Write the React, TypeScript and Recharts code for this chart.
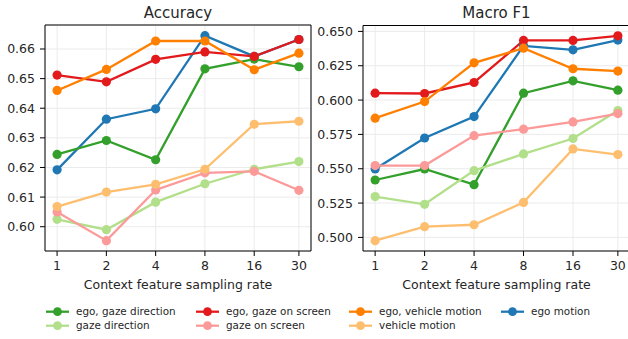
import React from "react";
import { LineChart, Line, XAxis, YAxis, CartesianGrid, ReferenceArea } from "recharts";

const rates = [1, 2, 4, 8, 16, 30];

const seriesNames = [
  "ego motion",
  "ego, gaze direction",
  "gaze direction",
  "ego, gaze on screen",
  "gaze on screen",
  "ego, vehicle motion",
  "vehicle motion",
];

const legendOrder = [
  "ego, gaze direction",
  "gaze direction",
  "ego, gaze on screen",
  "gaze on screen",
  "ego, vehicle motion",
  "vehicle motion",
  "ego motion",
];

const colors: Record<string, string> = {
  "ego, gaze direction": "#33a02c",
  "gaze direction": "#b2df8a",
  "ego, gaze on screen": "#e31a1c",
  "gaze on screen": "#fb9a99",
  "ego, vehicle motion": "#ff7f00",
  "vehicle motion": "#fdbf6f",
  "ego motion": "#1f78b4",
};

// Accuracy
const accEgoGazeDir = [0.6244, 0.6291, 0.6226, 0.6533, 0.6566, 0.654];
const accGazeDir = [0.6025, 0.599, 0.6083, 0.6145, 0.6194, 0.622];
const accEgoGazeScreen = [0.6512, 0.6489, 0.6565, 0.659, 0.6575, 0.6632];
const accGazeScreen = [0.605, 0.5953, 0.6124, 0.6182, 0.6187, 0.6123];
const accEgoVehicle = [0.646, 0.6531, 0.6627, 0.6627, 0.653, 0.6586];
const accVehicle = [0.6068, 0.6117, 0.6143, 0.6194, 0.6346, 0.6356];
const accEgo = [0.6192, 0.6363, 0.6398, 0.6645, 0.6575, 0.6632];

// Macro F1
const f1EgoGazeDir = [0.5418, 0.5498, 0.5384, 0.605, 0.614, 0.6072];
const f1GazeDir = [0.5297, 0.5241, 0.5486, 0.5608, 0.572, 0.5924];
const f1EgoGazeScreen = [0.605, 0.6048, 0.6128, 0.6434, 0.6434, 0.6468];
const f1GazeScreen = [0.5523, 0.5523, 0.5741, 0.5788, 0.5841, 0.5902];
const f1EgoVehicle = [0.5868, 0.5989, 0.6271, 0.6378, 0.6228, 0.6211];
const f1Vehicle = [0.4976, 0.5078, 0.5092, 0.5255, 0.5644, 0.5603];
const f1Ego = [0.5498, 0.5724, 0.588, 0.6395, 0.6366, 0.6437];

const accTicks = [0.6, 0.61, 0.62, 0.63, 0.64, 0.65, 0.66];
const f1Ticks = [0.5, 0.525, 0.55, 0.575, 0.6, 0.625, 0.65];

const accSeries: Record<string, number[]> = {
  "ego, gaze direction": accEgoGazeDir,
  "gaze direction": accGazeDir,
  "ego, gaze on screen": accEgoGazeScreen,
  "gaze on screen": accGazeScreen,
  "ego, vehicle motion": accEgoVehicle,
  "vehicle motion": accVehicle,
  "ego motion": accEgo,
};
const f1Series: Record<string, number[]> = {
  "ego, gaze direction": f1EgoGazeDir,
  "gaze direction": f1GazeDir,
  "ego, gaze on screen": f1EgoGazeScreen,
  "gaze on screen": f1GazeScreen,
  "ego, vehicle motion": f1EgoVehicle,
  "vehicle motion": f1Vehicle,
  "ego motion": f1Ego,
};

function buildRows(series: Record<string, number[]>) {
  return rates.map((r, i) => {
    const row: Record<string, number> = { rate: r };
    seriesNames.forEach((n) => (row[n] = series[n][i]));
    return row;
  });
}

const xDomain: [number, number] = [0.8436, 35.56];
const FONT = "DejaVu Sans";
const TEXT = "#262626";

type PanelProps = {
  data: Record<string, number>[];
  yDomain: [number, number];
  yTicks: number[];
  digits: number;
  yWidth: number;
  left: number;
  marginRight: number;
  marginTop: number;
};

function Panel({ data, yDomain, yTicks, digits, yWidth, left, marginRight, marginTop }: PanelProps) {
  return (
    <div style={{ position: "absolute", left, top: 0 }}>
      <LineChart
        width={320}
        height={300}
        data={data}
        margin={{ top: marginTop, right: marginRight, bottom: 300 - 251 - 30, left: 0 }}
      >
        <CartesianGrid stroke="#ebebeb" strokeWidth={1} />
        <XAxis
          dataKey="rate"
          type="number"
          scale="log"
          domain={xDomain}
          allowDataOverflow
          ticks={rates}
          interval={0}
          height={30}
          axisLine={false}
          tickLine={{ stroke: "#000", strokeWidth: 1 }}
          tickSize={5}
          tickMargin={5}
          tick={{ fill: TEXT, fontSize: 12.5, fontFamily: FONT }}
        />
        <YAxis
          type="number"
          domain={yDomain}
          allowDataOverflow
          ticks={yTicks}
          interval={0}
          width={yWidth}
          axisLine={false}
          tickLine={{ stroke: "#000", strokeWidth: 1 }}
          tickSize={5}
          tickMargin={5}
          tickFormatter={(v: number) => v.toFixed(digits)}
          tick={{ fill: TEXT, fontSize: 12.5, fontFamily: FONT }}
        />
        {seriesNames.map((n) => (
          <Line
            key={n}
            type="linear"
            dataKey={n}
            stroke={colors[n]}
            strokeWidth={2.3}
            dot={{ r: 4.6, fill: colors[n], stroke: colors[n], strokeWidth: 0 }}
            activeDot={false}
            isAnimationActive={false}
          />
        ))}
        <ReferenceArea
          x1={xDomain[0]}
          x2={xDomain[1]}
          y1={yDomain[0]}
          y2={yDomain[1]}
          fill="none"
          fillOpacity={0}
          stroke="#000"
          strokeWidth={1}
          ifOverflow="visible"
        />
      </LineChart>
    </div>
  );
}

const legendCols = [46, 196, 349, 501];
const legendRows = [311.7, 325.7];

export default function App() {
  const accRows = buildRows(accSeries);
  const f1Rows = buildRows(f1Series);
  return (
    <div
      style={{
        position: "absolute",
        left: 0,
        top: 0,
        width: 628,
        height: 339,
        overflow: "hidden",
        background: "#fff",
        fontFamily: FONT,
      }}
    >
      <Panel
        data={accRows}
        yDomain={[0.5918, 0.6681]}
        yTicks={accTicks}
        digits={2}
        yWidth={45}
        left={0}
        marginRight={9}
        marginTop={25}
      />
      <Panel
        data={f1Rows}
        yDomain={[0.4901, 0.6543]}
        yTicks={f1Ticks}
        digits={3}
        yWidth={49}
        left={314}
        marginRight={4}
        marginTop={25.5}
      />
      <svg
        width={628}
        height={339}
        style={{ position: "absolute", left: 0, top: 0, pointerEvents: "none" }}
      >
        <text x={178} y={18.3} textAnchor="middle" fontSize={15} fontFamily={FONT} fill={TEXT}>
          Accuracy
        </text>
        <text x={496.5} y={18.3} textAnchor="middle" fontSize={15} fontFamily={FONT} fill={TEXT}>
          Macro F1
        </text>
        <text x={178} y={288.5} textAnchor="middle" fontSize={12.5} fontFamily={FONT} fill={TEXT}>
          Context feature sampling rate
        </text>
        <text x={496.5} y={288.5} textAnchor="middle" fontSize={12.5} fontFamily={FONT} fill={TEXT}>
          Context feature sampling rate
        </text>
        {legendOrder.map((n, i) => {
          const cx = legendCols[Math.floor(i / 2)];
          const cy = legendRows[i % 2];
          return (
            <g key={n}>
              <line x1={cx} x2={cx + 23} y1={cy} y2={cy} stroke={colors[n]} strokeWidth={2.3} />
              <circle cx={cx + 11.5} cy={cy} r={4.4} fill={colors[n]} />
              <text x={cx + 30} y={cy + 3.7} fontSize={10.4} fontFamily={FONT} fill={TEXT}>
                {n}
              </text>
            </g>
          );
        })}
      </svg>
    </div>
  );
}
